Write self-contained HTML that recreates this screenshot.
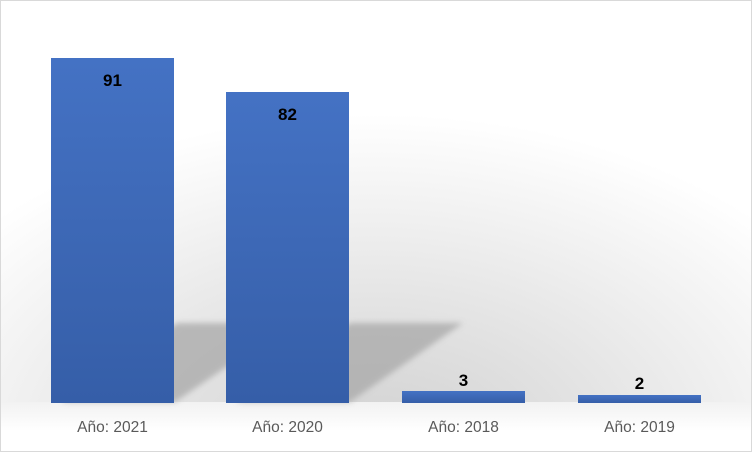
<!DOCTYPE html>
<html><head><style>
body{margin:0;background:#fff}
.c{position:relative;width:750px;height:450px;border:1px solid #d9d9d9;overflow:hidden;font-family:"Liberation Sans",sans-serif;
background:radial-gradient(ellipse 70% 75% at 50% 100%, #d0d0d0 0%, #e2e2e2 40%, #ffffff 100%)}
.floor{position:absolute;left:0;top:401px;width:750px;height:49px;background:linear-gradient(#f2f2f2,#ffffff 60%)}
.bar{position:absolute;width:123px;background:linear-gradient(#4472c4,#3a64b0 70%,#355ea8)}
.v{position:absolute;width:123px;text-align:center;font-weight:bold;font-size:17px;color:#000}
.l{position:absolute;width:123px;text-align:center;font-size:15.5px;color:#595959;top:418px}
svg{position:absolute;left:0;top:0}
</style></head><body><div class="c">
<div class="floor"></div>
<svg width="750" height="450"><defs><filter id="b"><feGaussianBlur stdDeviation="3"/></filter></defs>
<g fill="#a8a8a8" opacity="0.75" filter="url(#b)">
<polygon points="60,401 174,401 290,322 176,322"/>
<polygon points="235,401 349,401 462,322 349,322"/>
</g></svg>
<div class="bar" style="left:50px;top:57px;height:345px"></div>
<div class="bar" style="left:225px;top:91px;height:311px"></div>
<div class="bar" style="left:401px;top:390px;height:12px"></div>
<div class="bar" style="left:577px;top:394px;height:8px"></div>
<div class="v" style="left:50px;top:70px">91</div>
<div class="v" style="left:225px;top:104px">82</div>
<div class="v" style="left:401px;top:370px">3</div>
<div class="v" style="left:577px;top:373px">2</div>
<div class="l" style="left:50px">Año: 2021</div>
<div class="l" style="left:225px">Año: 2020</div>
<div class="l" style="left:401px">Año: 2018</div>
<div class="l" style="left:577px">Año: 2019</div>
</div></body></html>
